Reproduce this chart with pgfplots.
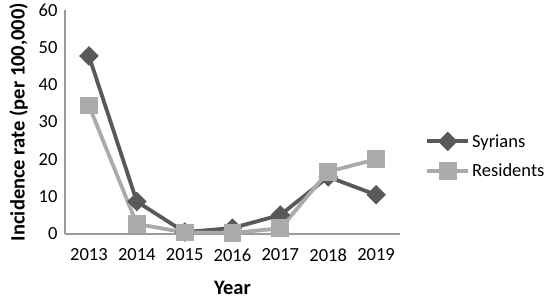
\documentclass[border=0pt]{standalone}
\usepackage{fontspec}
\setmainfont{Carlito}
\usepackage{pgfplots}
\pgfplotsset{compat=1.18}
\definecolor{syrgray}{HTML}{595959}
\definecolor{resgray}{HTML}{ABABAB}
\definecolor{axgray}{HTML}{9A9A9A}

\begin{document}
\begin{tikzpicture}
\begin{axis}[
    scale only axis,
    width=335bp, height=224bp,
    xmin=2012.5, xmax=2019.5,
    ymin=0, ymax=60,
    xtick={2013,...,2019},
    ytick={0,10,...,60},
    axis x line=bottom, axis y line=left,
    axis line style={axgray, line width=1.4bp, -},
    major tick length=0pt,
    /pgf/number format/assume math mode=true,
    /pgf/number format/1000 sep={},
    tick label style={font=\fontsize{18.5bp}{21bp}\selectfont, black},
    xticklabel style={yshift=-11bp},
    yticklabel style={xshift=-4bp},
    xlabel={\bfseries Year},
    ylabel={\bfseries Incidence rate (per 100,000)},
    label style={font=\fontsize{20.5bp}{24bp}\selectfont},
    xlabel style={yshift=-13bp},
    ylabel style={yshift=4bp},
    legend style={at={(1.075,0.348)}, anchor=west, draw=none, fill=none,
        font=\fontsize{18.5bp}{21bp}\selectfont, row sep=11bp, inner sep=0pt,
        /tikz/every even column/.append style={column sep=2bp}},
    legend cell align=left,
    legend image code/.code={
        \draw[#1, mark repeat=2, mark phase=2]
            plot coordinates {(0bp,0bp) (20.5bp,0bp) (41bp,0bp)};},
]
\addplot[syrgray, line width=3.8bp, mark=square*, mark size=5bp,
    mark options={rotate=45, solid}] coordinates {
    (2013, 47.7) (2014, 8.7) (2015, 0.5) (2016, 1.6)
    (2017, 5.1) (2018, 15.3) (2019, 10.5)
};
\addlegendentry{Syrians}
\addplot[resgray, line width=3.8bp, mark=square*, mark size=7bp,
    mark options={solid}] coordinates {
    (2013, 34.4) (2014, 2.7) (2015, 0.4) (2016, 0.3)
    (2017, 1.5) (2018, 16.7) (2019, 20.0)
};
\addlegendentry{Residents}
\coordinate (ll) at (rel axis cs:0,0);
\end{axis}
\pgfresetboundingbox
\path (ll) ++(-65bp,-65bp) rectangle ++(550bp,299bp);
\end{tikzpicture}
\end{document}
